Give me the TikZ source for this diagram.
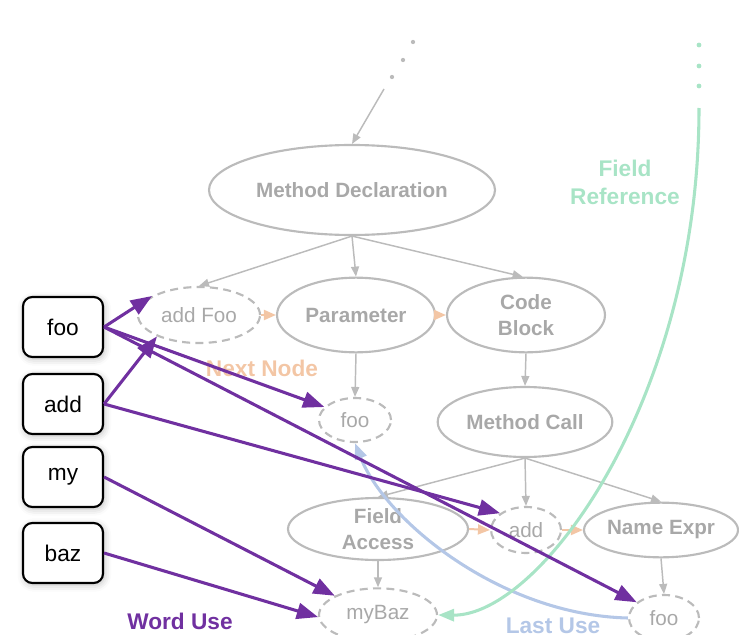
\documentclass[tikz,border=0pt]{standalone}
\usepackage{fontspec}
\setmainfont{Liberation Sans}
\usetikzlibrary{shapes.geometric,arrows.meta,shadows.blur}

\definecolor{astgray}{HTML}{BBBBBB}
\definecolor{asttext}{HTML}{A8A8A8}
\definecolor{usepurple}{HTML}{7030A0}
\definecolor{nextorange}{HTML}{F3C6A5}
\definecolor{lastblue}{HTML}{B4C7E7}
\definecolor{fieldgreen}{HTML}{A8E4C6}

\begin{document}
\begin{tikzpicture}[x=0.75pt,y=-0.75pt,
    ast/.style={ellipse,draw=astgray,line width=1.6pt,text=asttext,inner sep=0pt,align=center,
        font=\bfseries\fontsize{15.5}{19}\selectfont},
    tok/.style={ellipse,draw=astgray,line width=1.6pt,dash pattern=on 6pt off 4pt,text=asttext,
        inner sep=0pt,font=\fontsize{15.5}{19}\selectfont},
    word/.style={draw=black,line width=1.6pt,rounded corners=7pt,fill=white,minimum width=60pt,
        minimum height=45pt,font=\fontsize{17}{20}\selectfont,
        blur shadow={shadow xshift=1pt,shadow yshift=-1.5pt,shadow blur radius=5pt,shadow opacity=25}},
    child/.style={draw=astgray,line width=1.1pt,-{Triangle[length=7.5pt,width=6pt]}},
    next/.style={draw=nextorange,line width=1.5pt,-{Triangle[length=9pt,width=7.5pt]}},
    use/.style={draw=usepurple,line width=2.3pt,-{Triangle[length=16pt,width=12pt]}},
    lastuse/.style={draw=lastblue,line width=2.3pt,-{Triangle[length=12pt,width=9pt]}},
    fieldref/.style={draw=fieldgreen,line width=2.3pt,-{Triangle[length=12pt,width=9pt]}},
    legend/.style={font=\bfseries\fontsize{17}{21}\selectfont,align=center}]

    \useasboundingbox (0,0) rectangle (739,635);

    % syntax tree
    \node[ast,minimum width=214.5pt,minimum height=67.5pt] (md) at (352,190) {Method Declaration};
    \node[tok,minimum width=91.5pt,minimum height=42pt] (addfoo) at (199,315) {add Foo};
    \node[ast,minimum width=118.5pt,minimum height=56pt] (param) at (356,315) {Parameter};
    \node[ast,minimum width=118.5pt,minimum height=56pt] (block) at (526,315) {Code\\Block};
    \node[tok,minimum width=54pt,minimum height=33pt] (fooa) at (355,420) {foo};
    \node[ast,minimum width=131pt,minimum height=52.5pt] (call) at (525,422) {Method Call};
    \node[ast,minimum width=135pt,minimum height=46.5pt] (access) at (378,529) {Field\\Access};
    \node[tok,minimum width=52.5pt,minimum height=34.5pt] (addb) at (526,530) {add};
    \node[ast,minimum width=115.5pt,minimum height=41pt] (name) at (661,530) {Name Expr};
    \node[tok,minimum width=88.5pt,minimum height=40pt] (mybaz) at (378,615) {myBaz};
    \node[tok,minimum width=52.5pt,minimum height=34.5pt] (foob) at (664,618) {foo};

    % words
    \node[word] (wfoo) at (63,327) {foo};
    \node[word] (wadd) at (63,404) {add};
    \node[word] (wmy) at (63,477) {my};
    \node[word] (wbaz) at (63,553) {baz};

    % edge labels
    \node[legend,text=fieldgreen] (fieldlbl) at (625,182) {Field\\Reference};
    \node[legend,text=nextorange] (nextlbl) at (262,368) {Next Node};
    \node[legend,text=usepurple] (uselbl) at (180,621) {Word Use};
    \node[legend,text=lastblue] (lastlbl) at (553,626) {Last Use};

    % dots
    \foreach \x/\y in {413/42,403/60,392/77} \fill[astgray] (\x,\y) circle (1.6pt);
    \foreach \y in {45,66,86} \fill[fieldgreen] (699,\y) circle (1.8pt);
    \coordinate (up) at (384,89);
    \coordinate (fieldtop) at (699,108);

    \draw[child] (up) -- (md.north);
    \draw[child] (md.south) -- (addfoo.north);
    \draw[child] (md.south) -- (param.north);
    \draw[child] (md.south) -- (block.95);
    \draw[child] (param.south) -- (fooa.north);
    \draw[child] (block.south) -- (call.north);
    \draw[child] (call.south) -- (access.north);
    \draw[child] (call.south) -- (addb.north);
    \draw[child] (call.south) -- (name.north);
    \draw[child] (access.south) -- (mybaz.north);
    \draw[child] (name.south) -- (foob.north);

    \draw[next] (addfoo.east) -- (param.west);
    \draw[next] (param.east) -- (block.west);
    \draw[next] (access.east) -- (addb.west);
    \draw[next] (addb.east) -- (name.west);

    \draw[lastuse] (foob.west) .. controls (500,615) and (385,520) .. (fooa.south);
    \draw[fieldref] (fieldtop) .. controls (699,400) and (540,616) .. (mybaz.east);

    \draw[use] (wfoo.east) -- (addfoo.158);
    \draw[use] (wfoo.east) -- (fooa.157);
    \draw[use] (wfoo.east) -- (foob.150);
    \draw[use] (wadd.east) -- (addfoo.207);
    \draw[use] (wadd.east) -- (addb.147);
    \draw[use] (wmy.east) -- (mybaz.156);
    \draw[use] (wbaz.east) -- (mybaz.182);
\end{tikzpicture}
\end{document}
